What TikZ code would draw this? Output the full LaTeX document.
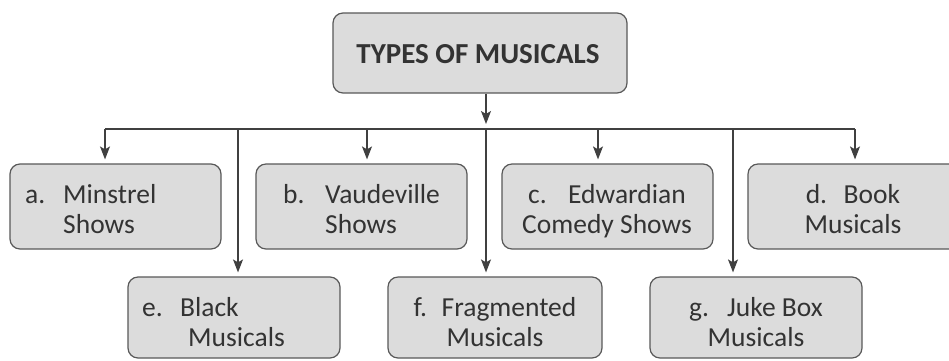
\documentclass[tikz,border=0pt]{standalone}
\usepackage{fontspec}
\setmainfont{Carlito}
\usetikzlibrary{arrows.meta}
\definecolor{boxfill}{HTML}{DCDCDC}
\definecolor{boxline}{HTML}{595959}
\definecolor{ink}{HTML}{333333}
\definecolor{wire}{HTML}{404040}
\tikzset{
  box/.style={draw=boxline, fill=boxfill, line width=1.2pt, rounded corners=10pt, inner sep=0pt},
  txt/.style={text=ink, font=\fontsize{27.5}{30}\selectfont, inner sep=0pt},
  wirestyle/.style={draw=wire, line width=1.3pt},
  arr/.style={wirestyle, -{Stealth[length=13pt,width=10pt,inset=3pt]}, shorten >=4pt}
}
\newcommand\lbl[2]{\makebox[#1][l]{#2}}
\newcommand\twoL[2]{\begin{tabular}[t]{@{}l@{}}#1\\#2\end{tabular}}
\newcommand\twoC[2]{\begin{tabular}[t]{@{}c@{}}#1\\#2\end{tabular}}
\begin{document}
\begin{tikzpicture}[x=1pt,y=-1pt]
\useasboundingbox (0,0) rectangle (949,360);
\clip (0,0) rectangle (949,360);
\fill[white] (0,0) rectangle (949,360);
% title
\node[box, minimum width=294pt, minimum height=80pt] (top) at (480,53) {};
\node[txt, font=\bfseries\fontsize{29}{34}\selectfont, anchor=base] (ttop) at (478,63) {TYPES OF MUSICALS};
% row 1 boxes
\node[box, minimum width=211pt, minimum height=85pt] (a) at (115.5,206.5) {};
\node[box, minimum width=211pt, minimum height=85pt] (b) at (361.5,206.5) {};
\node[box, minimum width=211pt, minimum height=85pt] (c) at (607.5,206.5) {};
\node[box, minimum width=211pt, minimum height=85pt] (d) at (853.5,206.5) {};
% row 2 boxes
\node[box, minimum width=212pt, minimum height=81pt] (e) at (234,317.5) {};
\node[box, minimum width=214pt, minimum height=81pt] (f) at (495,317.5) {};
\node[box, minimum width=212pt, minimum height=81pt] (g) at (756,317.5) {};
% texts
\node[txt, anchor=base west] (ta) at (25,203) {\twoL{\lbl{38pt}{a.}Minstrel}{\hspace*{38pt}Shows}};
\node[txt, anchor=base west] (tb) at (283,203) {\twoL{\lbl{42pt}{b.}Vaudeville}{\hspace*{42pt}Shows}};
\node[txt, anchor=base] (tc) at (607,203) {\twoC{\lbl{40pt}{c.}Edwardian}{Comedy Shows}};
\node[txt, anchor=base] (td) at (853,203) {\twoC{\lbl{38pt}{d.}Book}{Musicals}};
\node[txt, anchor=base west] (te) at (142,316) {\twoL{\lbl{38pt}{e.}Black}{\hspace*{46pt}Musicals}};
\node[txt, anchor=base] (tf) at (495,316) {\twoC{\lbl{28pt}{f.}Fragmented}{Musicals}};
\node[txt, anchor=base] (tg) at (756,316) {\twoC{\lbl{38pt}{g.}Juke Box}{Musicals}};
% bus
\coordinate (bus) at (486,129);
\coordinate (ba) at (105,129);
\coordinate (be) at (238,129);
\coordinate (bb) at (367,129);
\coordinate (bc) at (598,129);
\coordinate (bg) at (733,129);
\coordinate (bd) at (855,129);
\draw[wirestyle] (ba) -- (bd);
\draw[arr, shorten >=5pt] (top.south -| bus) -- (bus);
\draw[arr] (ba) -- (ba |- a.north);
\draw[arr] (bb) -- (bb |- b.north);
\draw[arr] (bc) -- (bc |- c.north);
\draw[arr] (bd) -- (bd |- d.north);
\draw[arr] (be) -- (be |- e.north);
\draw[arr] (bus) -- (bus |- f.north);
\draw[arr] (bg) -- (bg |- g.north);
\end{tikzpicture}
\end{document}
